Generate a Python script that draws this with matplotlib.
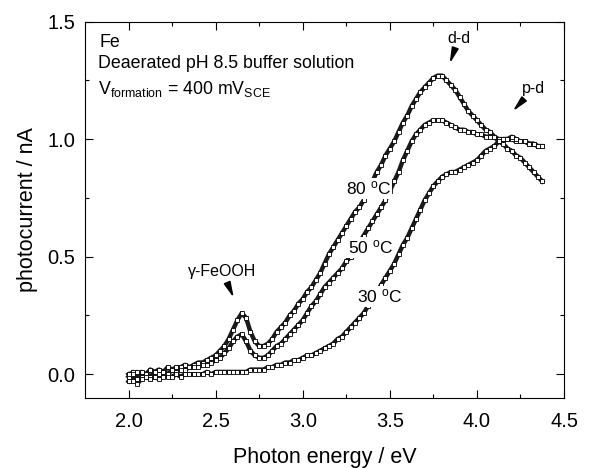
import numpy as np
import matplotlib.pyplot as plt

plt.rcParams['font.family'] = ['Liberation Sans', 'DejaVu Sans']
plt.rcParams['mathtext.fontset'] = 'custom'
plt.rcParams['mathtext.rm'] = 'Liberation Sans'
plt.rcParams['mathtext.it'] = 'Liberation Sans:italic'

# photon energy grid (eV)
energia = [2.000, 2.025, 2.050, 2.075, 2.100, 2.125, 2.150, 2.175, 2.200, 2.225,
           2.250, 2.275, 2.300, 2.325, 2.350, 2.375, 2.400, 2.425, 2.450, 2.475,
           2.500, 2.525, 2.550, 2.575, 2.600, 2.625, 2.650, 2.675, 2.700, 2.725,
           2.750, 2.775, 2.800, 2.825, 2.850, 2.875, 2.900, 2.925, 2.950, 2.975,
           3.000, 3.025, 3.050, 3.075, 3.100, 3.125, 3.150, 3.175, 3.200, 3.225,
           3.250, 3.275, 3.300, 3.325, 3.350, 3.375, 3.400, 3.425, 3.450, 3.475,
           3.500, 3.525, 3.550, 3.575, 3.600, 3.625, 3.650, 3.675, 3.700, 3.725,
           3.750, 3.775, 3.800, 3.825, 3.850, 3.875, 3.900, 3.925, 3.950, 3.975,
           4.000, 4.025, 4.050, 4.075, 4.100, 4.125, 4.150, 4.175, 4.200, 4.225,
           4.250, 4.275, 4.300, 4.325, 4.350, 4.375]

# photocurrent (nA) at 80, 50 and 30 C
i_80 = [-0.01, 0.01, -0.02, 0.01, 0.00, 0.02, 0.01, 0.02, 0.01, 0.03,
        0.02, 0.03, 0.03, 0.04, 0.03, 0.04, 0.05, 0.05, 0.06, 0.07,
        0.08, 0.10, 0.12, 0.15, 0.19, 0.23, 0.26, 0.24, 0.18, 0.14,
        0.12, 0.12, 0.13, 0.15, 0.18, 0.20, 0.22, 0.25, 0.27, 0.30,
        0.32, 0.35, 0.37, 0.40, 0.43, 0.47, 0.51, 0.54, 0.57, 0.60,
        0.63, 0.66, 0.69, 0.71, 0.74, 0.78, 0.82, 0.86, 0.89, 0.93,
        0.96, 0.99, 1.03, 1.07, 1.10, 1.14, 1.17, 1.20, 1.22, 1.24,
        1.26, 1.27, 1.27, 1.25, 1.23, 1.21, 1.18, 1.15, 1.12, 1.10,
        1.08, 1.06, 1.04, 1.03, 1.01, 0.99, 0.98, 0.96, 0.95, 0.93,
        0.92, 0.90, 0.88, 0.86, 0.84, 0.82]

i_50 = [0.00, -0.03, 0.01, -0.01, 0.00, -0.01, 0.01, 0.00, 0.01, 0.00,
        0.02, 0.01, 0.02, 0.02, 0.03, 0.03, 0.03, 0.04, 0.04, 0.05,
        0.06, 0.07, 0.09, 0.11, 0.14, 0.16, 0.17, 0.14, 0.10, 0.08,
        0.07, 0.07, 0.08, 0.10, 0.12, 0.13, 0.15, 0.17, 0.19, 0.21,
        0.23, 0.26, 0.29, 0.31, 0.34, 0.37, 0.39, 0.41, 0.43, 0.45,
        0.48, 0.50, 0.53, 0.56, 0.59, 0.62, 0.65, 0.68, 0.71, 0.74,
        0.78, 0.82, 0.86, 0.91, 0.95, 0.99, 1.02, 1.04, 1.06, 1.07,
        1.08, 1.08, 1.08, 1.07, 1.06, 1.05, 1.04, 1.04, 1.03, 1.03,
        1.02, 1.02, 1.01, 1.01, 1.01, 1.00, 1.00, 1.00, 1.00, 0.99,
        0.99, 0.99, 0.98, 0.98, 0.97, 0.97]

i_30 = [-0.03, 0.00, -0.04, -0.02, -0.01, -0.02, -0.01, -0.02, -0.01, -0.01,
        -0.01, 0.00, -0.01, 0.00, 0.00, 0.00, 0.00, 0.00, 0.01, 0.00,
        0.01, 0.01, 0.01, 0.01, 0.01, 0.01, 0.01, 0.01, 0.02, 0.02,
        0.02, 0.02, 0.03, 0.03, 0.04, 0.04, 0.05, 0.05, 0.06, 0.06,
        0.07, 0.08, 0.08, 0.09, 0.10, 0.11, 0.12, 0.13, 0.15, 0.16,
        0.18, 0.20, 0.22, 0.24, 0.26, 0.29, 0.32, 0.35, 0.38, 0.41,
        0.44, 0.47, 0.51, 0.55, 0.58, 0.62, 0.66, 0.70, 0.74, 0.77,
        0.80, 0.82, 0.84, 0.85, 0.86, 0.86, 0.87, 0.88, 0.89, 0.90,
        0.91, 0.93, 0.95, 0.96, 0.97, 0.99, 1.00, 1.00, 1.01, 1.00,
        0.99, 0.99, 0.98, 0.98, 0.97, 0.97]

fig = plt.figure(figsize=(5.9, 4.68), dpi=100)
ax = fig.add_axes([0.144, 0.150, 0.812, 0.804])

for serie in [i_80, i_50, i_30]:
    ax.plot(energia, serie, color='#1a1a1a', lw=3.2, zorder=2)
    ax.plot(energia, serie, ls='none', marker='s', ms=3.0, mfc='white',
            mec='black', mew=0.6, zorder=3)

ax.set_xlim(1.75, 4.5)
ax.set_ylim(-0.1, 1.5)
ax.set_xticks([2.0, 2.5, 3.0, 3.5, 4.0, 4.5])
ax.set_xticks([2.25, 2.75, 3.25, 3.75, 4.25], minor=True)
ax.set_yticks([0.0, 0.5, 1.0, 1.5])
ax.set_yticks([0.25, 0.75, 1.25], minor=True)
ax.set_xticklabels(['2.0', '2.5', '3.0', '3.5', '4.0', '4.5'])
ax.set_yticklabels(['0.0', '0.5', '1.0', '1.5'])
ax.tick_params(which='both', direction='in', top=True, right=True, width=0.8)
ax.tick_params(which='major', length=5.5, labelsize=14.5)
ax.tick_params(axis='x', which='major', pad=10)
ax.tick_params(axis='y', which='major', pad=7)
ax.tick_params(which='minor', length=3)
for s in ax.spines.values():
    s.set_linewidth(0.8)

ax.set_xlabel('Photon energy / eV', fontsize=15.5, labelpad=12)
ax.set_ylabel('photocurrent / nA', fontsize=15.5, labelpad=7)

ax.text(0.031, 0.933, 'Fe', transform=ax.transAxes, fontsize=12.8, va='baseline')
ax.text(0.028, 0.877, 'Deaerated pH 8.5 buffer solution', transform=ax.transAxes,
        fontsize=12.8, va='baseline')
ax.text(0.028, 0.808, r'V$_{\mathrm{formation}}$ = 400 mV$_{\mathrm{SCE}}$',
        transform=ax.transAxes, fontsize=12.8, va='baseline')

caixa = dict(facecolor='white', edgecolor='none', pad=1.0)
ax.text(3.377, 0.79, r'80 $^{\mathrm{o}}$C', fontsize=12.5, ha='center', va='center',
        bbox=caixa, zorder=5)
ax.text(3.388, 0.54, r'50 $^{\mathrm{o}}$C', fontsize=12.5, ha='center', va='center',
        bbox=caixa, zorder=5)
ax.text(3.44, 0.33, r'30 $^{\mathrm{o}}$C', fontsize=12.5, ha='center', va='center',
        bbox=caixa, zorder=5)

seta = dict(arrowstyle='-|>,head_length=0.8,head_width=0.18', color='black', lw=1.2)
ax.annotate('d-d', xy=(3.838, 1.31), xytext=(3.895, 1.428), fontsize=11.5,
            ha='center', va='center', arrowprops=seta)
ax.annotate('p-d', xy=(4.195, 1.11), xytext=(4.327, 1.216), fontsize=11.5,
            ha='center', va='center', arrowprops=seta)
ax.annotate('γ-FeOOH', xy=(2.611, 0.314), xytext=(2.539, 0.436), fontsize=11.5,
            ha='center', va='center', arrowprops=seta)

plt.savefig('out.png', dpi=100)
